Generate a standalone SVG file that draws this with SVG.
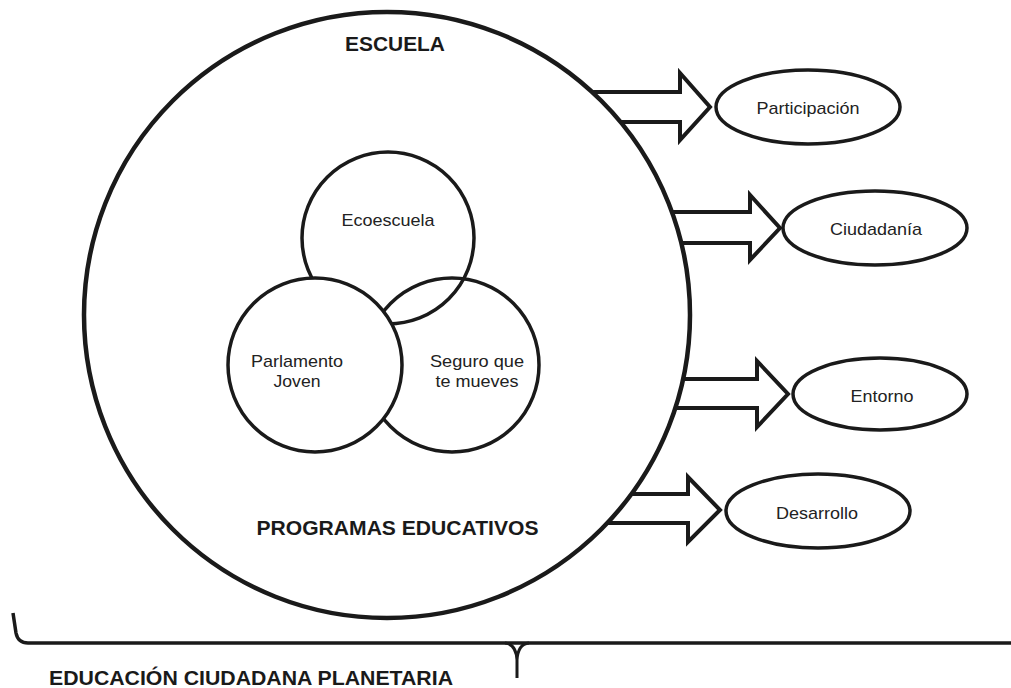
<svg xmlns="http://www.w3.org/2000/svg" width="1011" height="688" viewBox="0 0 1011 688">
<style>
.ln{fill:none;stroke:#1a1a1a;stroke-linejoin:miter}
.big{stroke-width:4.5}
.sm{stroke-width:3.5}
.arr{fill:none;stroke:#1a1a1a;stroke-width:4;stroke-linejoin:miter}
.t{font-family:"Liberation Sans",Arial,sans-serif;font-size:17px;fill:#222;text-anchor:middle}
.b{font-family:"Liberation Sans",Arial,sans-serif;font-weight:bold;font-size:21px;fill:#1a1a1a;text-anchor:middle}
</style>
<rect width="1011" height="688" fill="#fff"/>
<g id="escuela">
<circle class="ln big" cx="387" cy="315" r="303"/>
<text class="b" x="395" y="51" textLength="100" lengthAdjust="spacingAndGlyphs">ESCUELA</text>
<text class="b" x="397.5" y="535" textLength="282" lengthAdjust="spacingAndGlyphs">PROGRAMAS EDUCATIVOS</text>
</g>
<g id="ecoescuela">
<circle class="ln sm" cx="388" cy="238" r="86"/>
<text class="t" x="388" y="226" textLength="93" lengthAdjust="spacingAndGlyphs">Ecoescuela</text>
</g>
<g id="seguro">
<circle class="ln sm" cx="452" cy="365" r="87"/>
<text class="t" x="477" y="367" textLength="94" lengthAdjust="spacingAndGlyphs">Seguro que</text>
<text class="t" x="477" y="387" textLength="83" lengthAdjust="spacingAndGlyphs">te mueves</text>
</g>
<g id="parlamento">
<circle class="sm" cx="315" cy="365" r="87" fill="#fff" stroke="#1a1a1a"/>
<text class="t" x="297" y="367" textLength="92" lengthAdjust="spacingAndGlyphs">Parlamento</text>
<text class="t" x="297" y="387" textLength="47" lengthAdjust="spacingAndGlyphs">Joven</text>
</g>
<g id="connectors">
<path class="arr" d="M592,92 L680,92 L680,73 L710,107 L680,140 L680,122 L620.6,122"/>
<path class="arr" d="M672,212 L750,212 L750,195 L780,228 L750,260 L750,243 L681.3,243"/>
<path class="arr" d="M683.2,379 L757,379 L757,361 L788,394 L757,427 L757,408 L675.4,408"/>
<path class="arr" d="M631.5,494 L688,494 L688,477 L720,510 L688,542 L688,523 L607.3,523"/>
</g>
<g id="participacion">
<ellipse class="ln sm" cx="808" cy="107" rx="92" ry="37"/>
<text class="t" x="808" y="114" textLength="103" lengthAdjust="spacingAndGlyphs">Participación</text>
</g>
<g id="ciudadania">
<ellipse class="ln sm" cx="875" cy="228" rx="92" ry="37"/>
<text class="t" x="876" y="235" textLength="92" lengthAdjust="spacingAndGlyphs">Ciudadanía</text>
</g>
<g id="entorno">
<ellipse class="ln sm" cx="880" cy="394" rx="87" ry="36"/>
<text class="t" x="882" y="402" textLength="63" lengthAdjust="spacingAndGlyphs">Entorno</text>
</g>
<g id="desarrollo">
<ellipse class="ln sm" cx="818" cy="511" rx="92" ry="37"/>
<text class="t" x="817" y="519" textLength="82" lengthAdjust="spacingAndGlyphs">Desarrollo</text>
</g>
<g id="brace">
<path class="ln" stroke-width="3.5" d="M13,613 L16,633 Q18,643 28,643 L1011,643"/>
<path class="ln" stroke-width="3" d="M505,643 Q516,644 517,660 L517,678 M529,643 Q518,644 517,660"/>
<text class="b" x="251" y="685" textLength="404" lengthAdjust="spacingAndGlyphs" font-size="19">EDUCACIÓN CIUDADANA PLANETARIA</text>
</g>
</svg>
